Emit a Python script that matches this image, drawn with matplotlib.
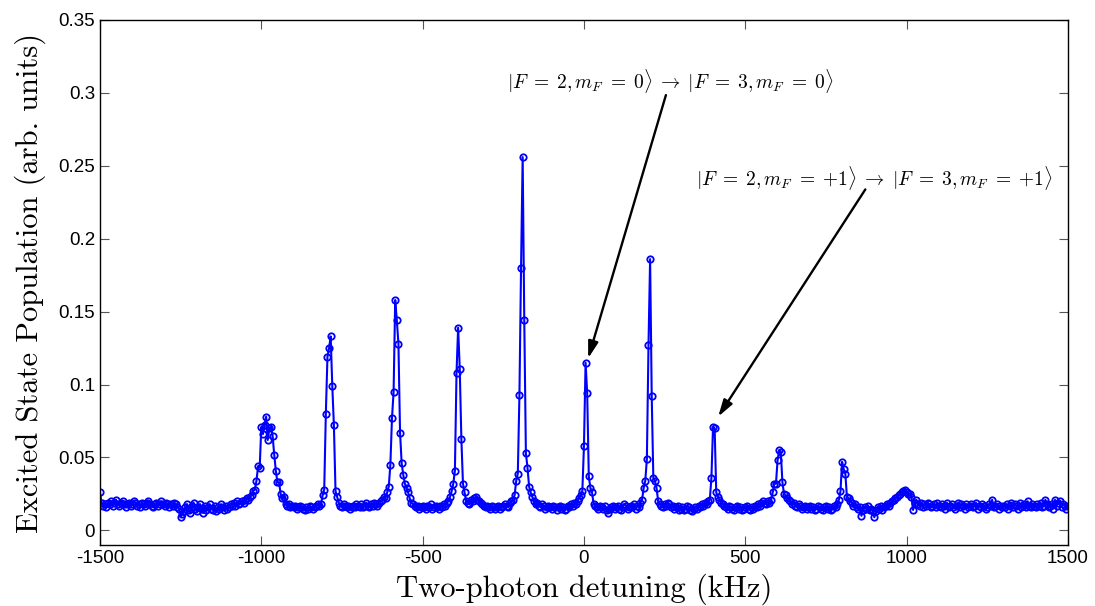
import numpy as np
import matplotlib
matplotlib.use("Agg")
import matplotlib.pyplot as plt
from matplotlib.ticker import FuncFormatter

plt.rcParams["mathtext.fontset"] = "cm"
plt.rcParams["axes.unicode_minus"] = False

# balayage en detuning, pas de 5 kHz
detuning_khz = np.arange(-1500, 1505, 5)

# population (x1e-3), une ligne = 100 kHz
population_milli = [
    26, 19, 17, 18, 16, 19, 18, 20, 17, 19, 21, 18, 17, 19, 20, 18, 16, 18, 19, 17,
    18, 20, 19, 17, 18, 16, 19, 18, 17, 19, 20, 18, 17, 16, 18, 19, 17, 18, 20, 18,
    17, 19, 18, 16, 18, 17, 19, 18, 16, 15, 9, 11, 13, 16, 18, 14, 12, 17, 19, 15,
    13, 16, 18, 15, 12, 17, 14, 16, 18, 15, 14, 17, 13, 16, 15, 18, 16, 14, 17, 15,
    16, 18, 17, 19, 17, 20, 18, 19, 20, 19, 21, 22, 21, 23, 24, 27, 28, 34, 44, 43,
    71, 66, 72, 78, 62, 70, 71, 65, 52, 41, 33, 33, 25, 22, 23, 18, 17, 18, 16, 17,
    16, 17, 15, 16, 17, 16, 15, 14, 16, 15, 17, 16, 15, 16, 17, 18, 17, 18, 24, 28,
    80, 119, 125, 133, 99, 72, 27, 23, 19, 17, 16, 18, 17, 16, 17, 15, 16, 17, 16, 18,
    17, 16, 18, 16, 17, 19, 17, 16, 18, 17, 19, 18, 17, 19, 20, 21, 23, 22, 26, 30,
    45, 77, 95, 158, 144, 128, 67, 46, 38, 32, 29, 26, 22, 19, 18, 17, 16, 17, 15, 16,
    17, 16, 15, 17, 16, 18, 15, 16, 17, 16, 15, 17, 16, 18, 17, 19, 20, 23, 27, 32,
    41, 108, 139, 111, 63, 32, 26, 20, 19, 18, 21, 20, 22, 23, 21, 20, 19, 18, 17, 16,
    17, 16, 15, 17, 16, 15, 16, 17, 15, 16, 17, 18, 17, 16, 19, 20, 21, 24, 34, 39,
    93, 180, 256, 144, 53, 43, 30, 26, 23, 20, 18, 19, 17, 16, 18, 17, 15, 16, 17, 16,
    15, 17, 16, 14, 16, 17, 15, 16, 14, 15, 17, 16, 18, 17, 19, 18, 20, 22, 24, 27,
    58, 115, 94, 37, 29, 26, 18, 17, 16, 15, 17, 16, 15, 17, 14, 12, 15, 16, 17, 15,
    16, 17, 15, 14, 16, 18, 17, 15, 16, 17, 16, 18, 15, 17, 16, 19, 21, 29, 34, 49,
    127, 186, 92, 36, 34, 29, 20, 18, 17, 16, 18, 17, 19, 18, 16, 17, 15, 16, 17, 14,
    15, 16, 14, 15, 17, 16, 14, 13, 15, 16, 15, 17, 16, 18, 17, 19, 18, 20, 21, 36,
    71, 70, 26, 23, 21, 19, 18, 17, 16, 15, 17, 16, 15, 14, 16, 17, 15, 16, 14, 15,
    16, 17, 15, 14, 16, 15, 17, 16, 18, 17, 19, 20, 19, 18, 20, 19, 21, 26, 32, 32,
    48, 55, 54, 33, 25, 24, 22, 21, 20, 18, 19, 17, 16, 18, 17, 15, 16, 17, 15, 16,
    17, 15, 16, 14, 15, 17, 16, 15, 14, 16, 17, 15, 16, 14, 15, 17, 16, 18, 21, 27,
    47, 42, 39, 23, 22, 20, 19, 17, 18, 16, 15, 16, 10, 14, 16, 15, 17, 14, 15, 13,
    9, 13, 16, 15, 17, 14, 16, 17, 18, 17, 19, 20, 21, 22, 23, 24, 25, 26, 27, 28,
    26, 25, 25, 23, 14, 19, 21, 18, 17, 19, 16, 18, 17, 19, 18, 16, 17, 18, 16, 19,
    17, 16, 18, 17, 15, 19, 16, 17, 18, 16, 15, 17, 19, 16, 18, 17, 15, 18, 16, 17,
    18, 16, 17, 19, 15, 17, 16, 18, 17, 15, 16, 18, 17, 21, 16, 17, 18, 15, 17, 16,
    17, 16, 18, 15, 17, 19, 16, 18, 17, 15, 19, 16, 17, 18, 16, 20, 17, 16, 18, 17,
    16, 18, 17, 19, 16, 17, 21, 18, 16, 17, 18, 15, 21, 17, 19, 20, 16, 18, 17, 15,
    17,
]
population = np.array(population_milli) / 1000.0

x_ticks = [-1500, -1000, -500, 0, 500, 1000, 1500]
y_ticks = [0, 0.05, 0.1, 0.15, 0.2, 0.25, 0.3, 0.35]

label_m0 = r"$|F\;=\;2,m_F\;=\;0\rangle\;\rightarrow\;|F\;=\;3,m_F\;=\;0\rangle$"
label_m1 = r"$|F\;=\;2,m_F\;=\;{+}1\rangle\;\rightarrow\;|F\;=\;3,m_F\;=\;{+}1\rangle$"


def main():
    fig = plt.figure(figsize=(10.95, 6.06), dpi=100)
    ax = fig.add_axes([0.0913, 0.1007, 0.8840, 0.8663])

    ax.plot(detuning_khz, population, "-o", color="#0000ff", lw=1.5,
            ms=4.6, mfc="none", mew=1.3)

    ax.set_xlim(-1500, 1500)
    ax.set_ylim(-0.01, 0.35)
    ax.set_xticks(x_ticks)
    ax.set_yticks(y_ticks)
    ax.yaxis.set_major_formatter(FuncFormatter(lambda v, _: f"{round(v, 2):g}"))
    ax.tick_params(direction="in", length=6.5, width=0.8, top=True, right=True,
                   labelsize=13.5, colors="#555555", labelcolor="black")
    for lab in ax.get_xticklabels() + ax.get_yticklabels():
        lab.set_fontfamily("Liberation Sans")
    for sp in ax.spines.values():
        sp.set_linewidth(1.0)

    ax.set_xlabel("Two-photon detuning (kHz)", fontfamily="cmr10", fontsize=22,
                  labelpad=5)
    ax.set_ylabel("Excited State Population (arb. units)", fontfamily="cmr10",
                  fontsize=22, labelpad=9)

    ax.text(266, 0.3083, label_m0, ha="center", va="center", fontsize=14)
    ax.text(901, 0.2419, label_m1, ha="center", va="center", fontsize=14)

    arrow = dict(arrowstyle="-|>,head_length=1.0,head_width=0.3", color="black",
                 lw=1.7, shrinkA=0, shrinkB=0)
    ax.annotate("", xy=(13, 0.118), xytext=(254, 0.2985), arrowprops=arrow)
    ax.annotate("", xy=(416, 0.078), xytext=(872, 0.2338), arrowprops=arrow)

    fig.savefig("out.png", dpi=100)


if __name__ == "__main__":
    main()
